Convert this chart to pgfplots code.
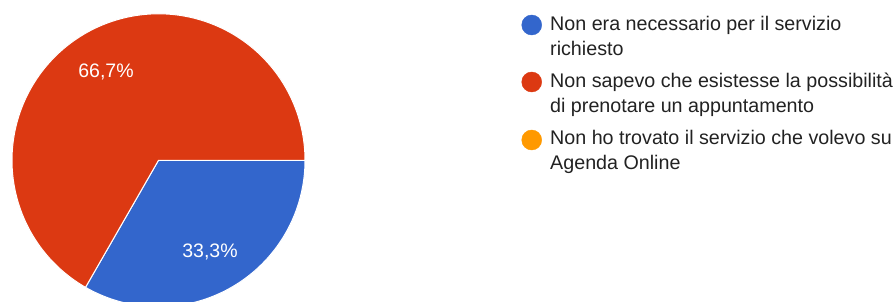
\documentclass[border=0pt]{standalone}
\usepackage{pgfplots}
\pgfplotsset{compat=1.18}
\usepackage{pgfplotstable}
\usepackage{fontspec}
\setmainfont{Liberation Sans}
\definecolor{gblue}{HTML}{3366CC}
\definecolor{gred}{HTML}{DC3912}
\definecolor{gorange}{HTML}{FF9900}
\definecolor{gtext}{HTML}{222222}
% share of answers, in percent
\pgfplotstableread{
cat pct
1 33.3
2 66.7
3 0.0
}\piedata
\pgfplotstablegetelem{0}{pct}\of\piedata \let\pa\pgfplotsretval
\pgfplotstablegetelem{1}{pct}\of\piedata \let\pb\pgfplotsretval
\pgfmathsetmacro{\angA}{-3.6*\pa}
\pgfmathsetmacro{\angB}{\angA-3.6*\pb}
\def\cx{158.5}
\def\cy{141.7}
\def\R{146.5}
\begin{document}
\begin{tikzpicture}
\begin{axis}[
  scale only axis, width=894pt, height=302pt,
  xmin=0, xmax=894, ymin=0, ymax=302,
  hide axis, clip=true,
]
% blue slice: 0 -> -120 deg (clockwise)
\addplot[fill=gblue, draw=white, line width=1pt, domain=0:\angA, samples=120]
  ({\cx+\R*cos(x)},{\cy+\R*sin(x)}) -- (axis cs:\cx,\cy) -- cycle;
% red slice
\addplot[fill=gred, draw=white, line width=1pt, domain=\angA:\angB, samples=200]
  ({\cx+\R*cos(x)},{\cy+\R*sin(x)}) -- (axis cs:\cx,\cy) -- cycle;
% legend markers
\addplot[only marks, mark=*, mark size=10pt, gblue] coordinates {(531.7,277)};
\addplot[only marks, mark=*, mark size=10pt, gred] coordinates {(531.7,220)};
\addplot[only marks, mark=*, mark size=10pt, gorange] coordinates {(531.7,162)};
% slice labels
\node[white, font=\fontsize{19.5}{22}\selectfont] at (axis cs:106,230) {66,7\%};
\node[white, font=\fontsize{19.5}{22}\selectfont] at (axis cs:210,50) {33,3\%};
% legend text
\begin{scope}[every node/.style={anchor=base west, inner sep=0pt, text=gtext, font=\fontsize{19.7}{25}\selectfont}]
\node at (axis cs:550,271) {Non era necessario per il servizio};
\node at (axis cs:550,246) {richiesto};
\node at (axis cs:550,214) {Non sapevo che esistesse la possibilità};
\node at (axis cs:550,189) {di prenotare un appuntamento};
\node at (axis cs:550,157) {Non ho trovato il servizio che volevo su};
\node at (axis cs:550,132) {Agenda Online};
\end{scope}
\end{axis}
\pgfresetboundingbox
\path[use as bounding box] (current axis.south west) rectangle (current axis.north east);
\end{tikzpicture}
\end{document}
